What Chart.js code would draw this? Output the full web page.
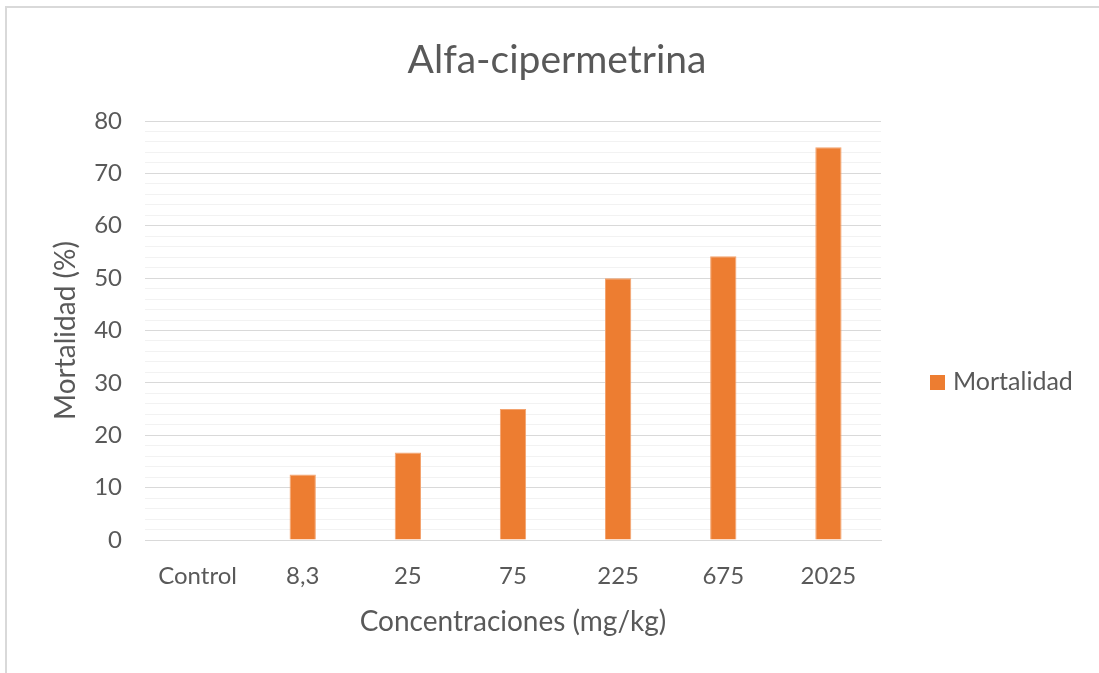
<!DOCTYPE html>
<html>
<head>
<meta charset="utf-8">
<script src="https://cdn.jsdelivr.net/npm/chart.js@4"></script>
<style>
  html, body { margin: 0; padding: 0; background: #ffffff; overflow: hidden; width: 1099px; height: 673px; }
  #frame { position: absolute; left: 5px; top: 6px; width: 1200px; height: 800px; border-top: 2px solid #d9d9d9; border-left: 2px solid #d9d9d9; }
  #wrap { position: absolute; left: 0; top: 0; width: 1114px; height: 673px; }
</style>
</head>
<body>
<div id="frame"></div>
<div id="wrap"><canvas id="c" width="1114" height="673"></canvas></div>
<script>
const chartTitle = 'Alfa-cipermetrina';
const categories = ['Control', '8,3', '25', '75', '225', '675', '2025'];
const seriesName = 'Mortalidad';
const mortalidad = [0, 12.5, 16.7, 25, 50, 54.2, 75];
const yTitle = 'Mortalidad (%)';
const xTitle = 'Concentraciones (mg/kg)';

const FONT = 'Lato, "Open Sans", sans-serif';
const TXT = '#595959';
const BAR = '#ED7D31';

// Reserve a column on the right for the legend, so the full-width title is centred on the whole canvas
const legendColumn = {
  id: 'legendColumn',
  beforeInit(chart) {
    const box = {
      position: 'right', weight: 0, fullSize: false,
      options: { position: 'right', weight: 0, fullSize: false },
      left: 0, top: 0, right: 0, bottom: 0, width: 0, height: 0,
      isHorizontal() { return false; },
      update(maxW, maxH) { this.width = 233; this.height = maxH; return { width: 233, height: maxH }; },
      draw() {}
    };
    Chart.layouts.addBox(chart, box);
  },
  afterDraw(chart) {
    const ctx = chart.ctx;
    const ds = chart.data.datasets[0];
    ctx.save();
    ctx.fillStyle = ds.backgroundColor;
    ctx.fillRect(930, 375, 15, 15);
    ctx.fillStyle = TXT;
    ctx.font = '25px ' + FONT;
    ctx.textBaseline = 'middle';
    ctx.textAlign = 'left';
    ctx.fillText(ds.label, 953, 382);
    ctx.restore();
  }
};

new Chart(document.getElementById('c'), {
  type: 'bar',
  data: {
    labels: categories,
    datasets: [{
      label: seriesName,
      data: mortalidad,
      backgroundColor: BAR,
      borderColor: '#F3A36F',
      borderWidth: 1,
      categoryPercentage: 1,
      barPercentage: 0.25
    }]
  },
  options: {
    responsive: false,
    animation: false,
    layout: { padding: 0 },
    plugins: {
      legend: { display: false },
      tooltip: { enabled: false },
      title: {
        display: true,
        text: chartTitle,
        color: TXT,
        font: { family: FONT, size: 39, weight: 'normal' },
        padding: { top: 36.6, bottom: 37.6 }
      }
    },
    scales: {
      x: {
        grid: { display: false, drawTicks: false },
        border: { display: true, color: '#d9d9d9', width: 1 },
        ticks: { color: TXT, font: { family: FONT, size: 24 }, padding: 22, maxRotation: 0 },
        title: { display: true, text: xTitle, color: TXT, font: { family: FONT, size: 28 }, padding: { top: 0, bottom: 34.2 } },
        afterFit(scale) { scale.height = 133; }
      },
      y: {
        min: 0, max: 80,
        grid: {
          drawTicks: false,
          lineWidth: 1,
          color(ctx) { return (ctx.tick && ctx.tick.value % 10 === 0) ? '#d9d9d9' : '#f2f2f2'; }
        },
        border: { display: false },
        ticks: {
          stepSize: 2, autoSkip: false, color: TXT, font: { family: FONT, size: 24 }, padding: 23,
          callback(v) { return v % 10 === 0 ? String(v) : ''; }
        },
        title: { display: true, text: yTitle, color: TXT, font: { family: FONT, size: 28 }, padding: { top: 49.2, bottom: 0 } },
        afterFit(scale) { scale.width = 145; }
      }
    }
  },
  plugins: [legendColumn]
});
</script>
</body>
</html>
